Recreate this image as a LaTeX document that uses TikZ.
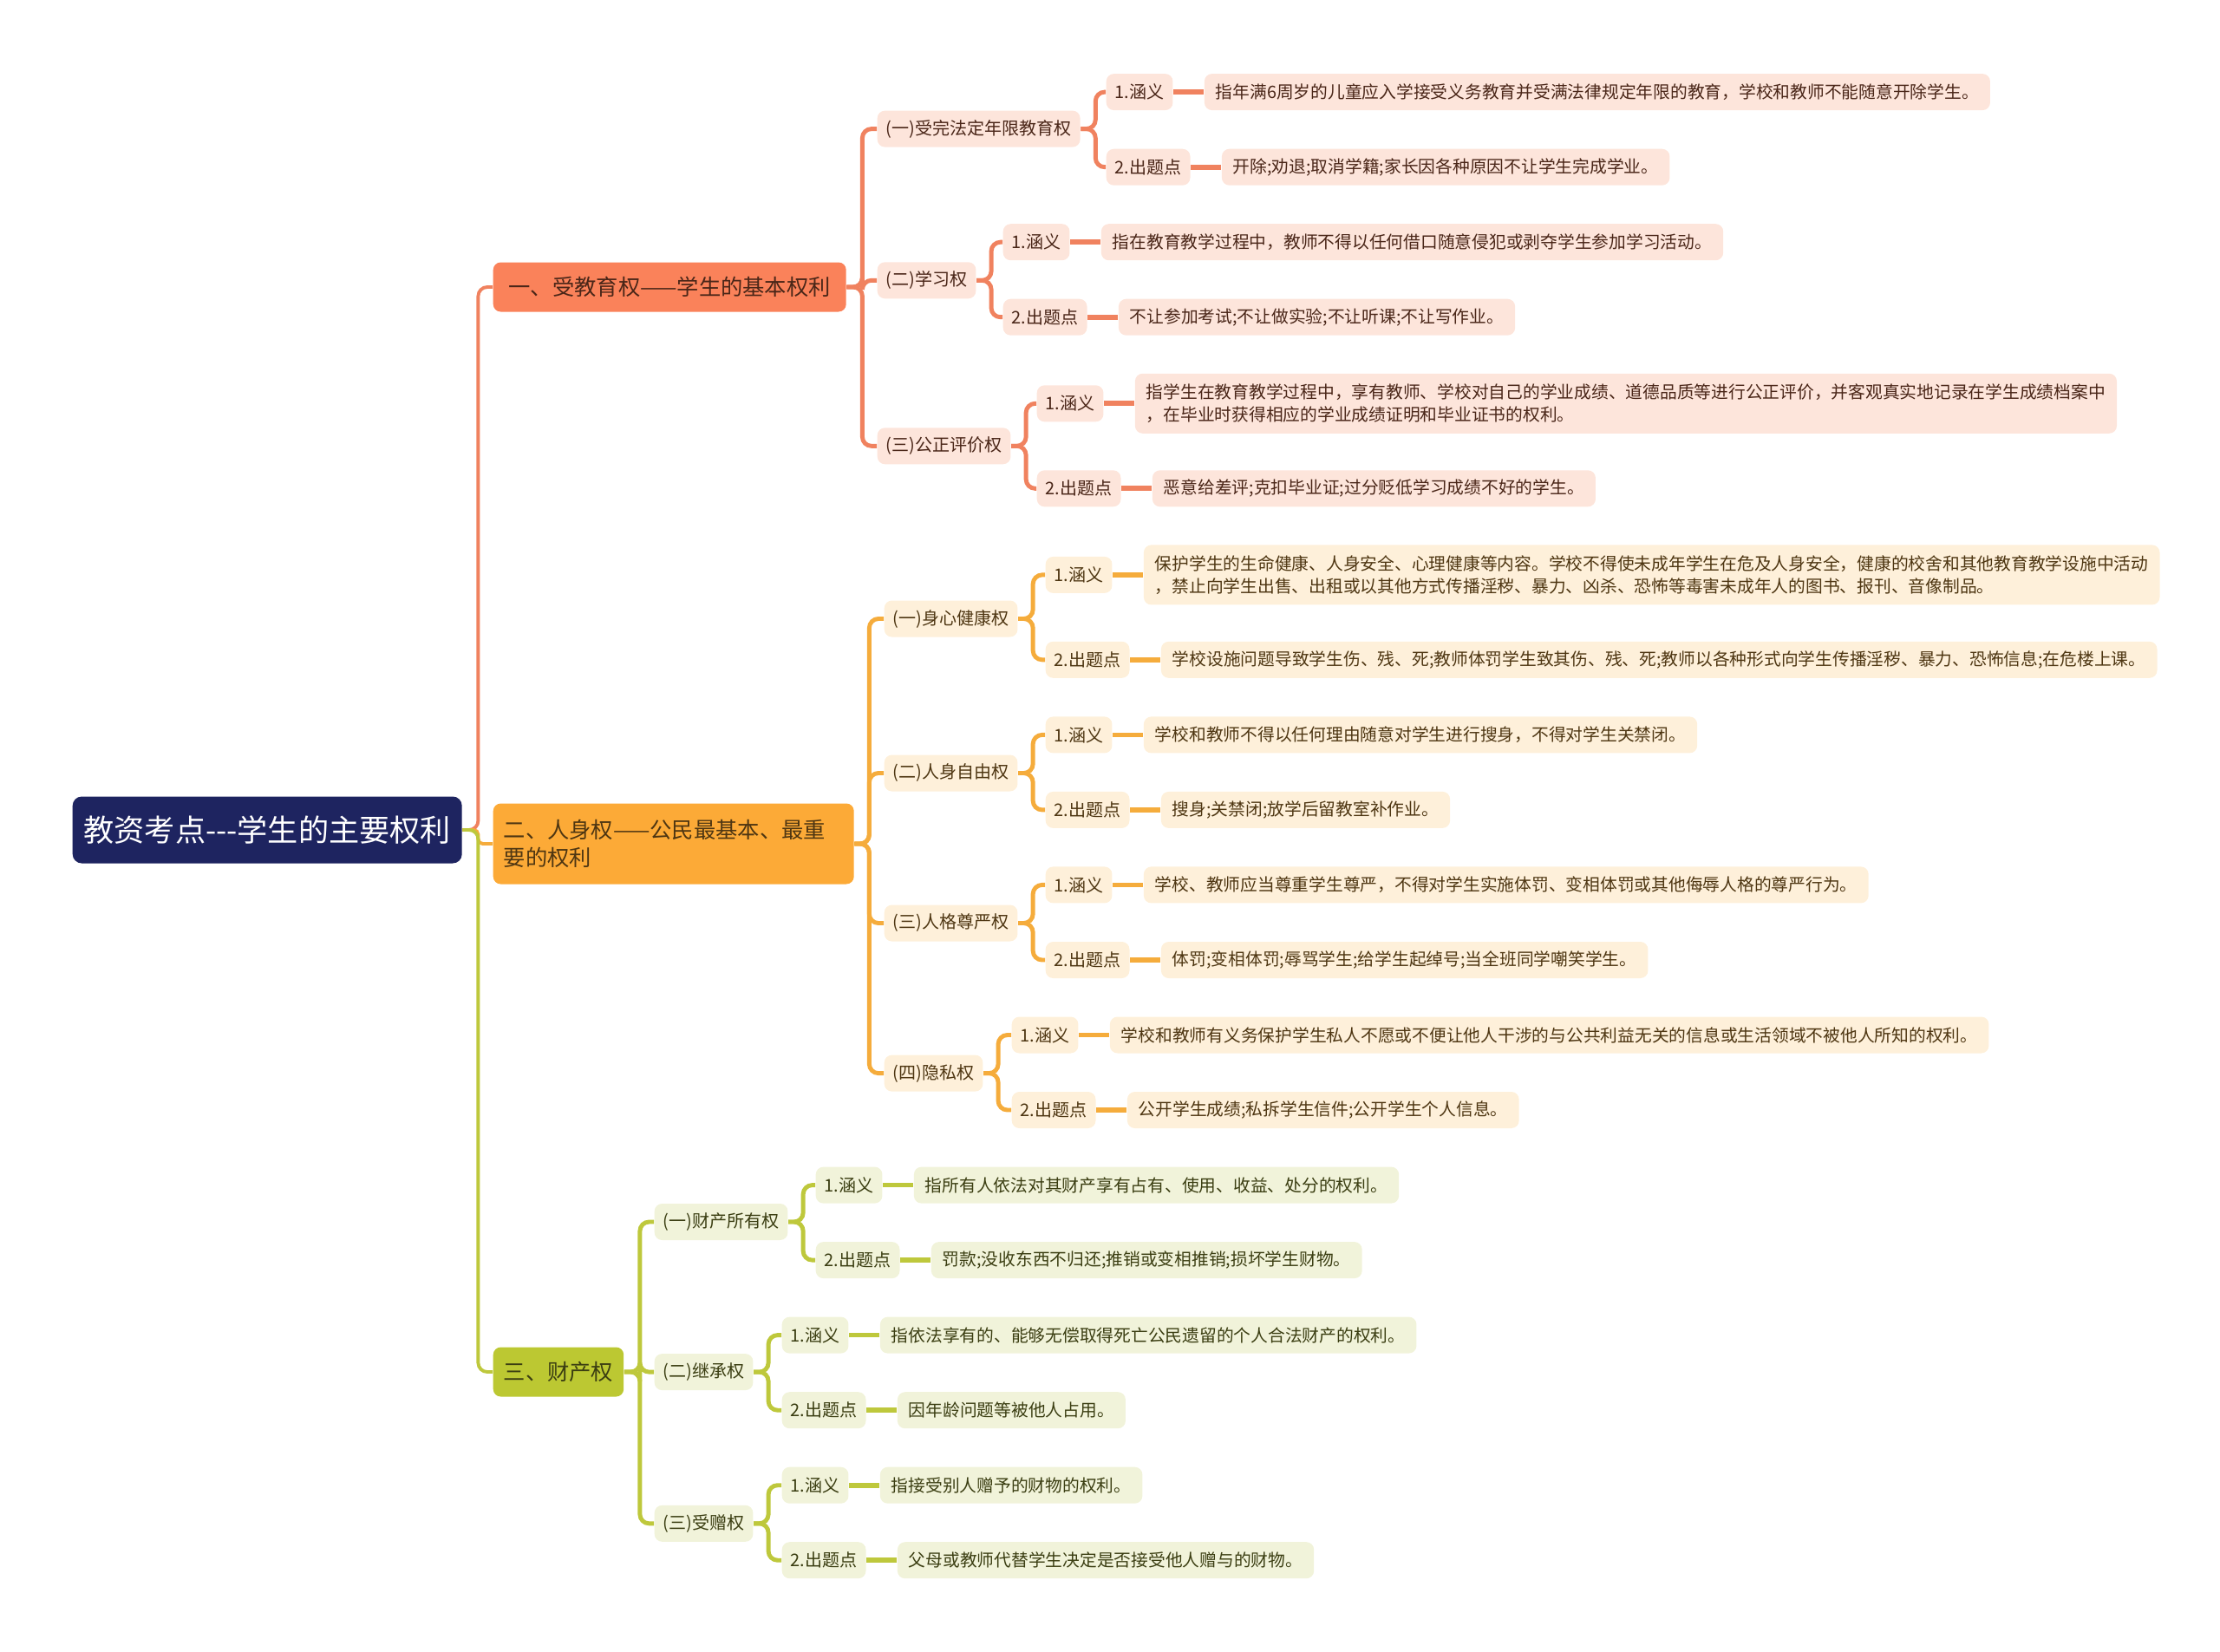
\documentclass[tikz,border=0pt]{standalone}
\usepackage{fontspec}
\newfontfamily\cjk{Noto Sans CJK SC}
\usepackage{tikz}
\usetikzlibrary{positioning}

% branch colours
\definecolor{rootBlue}{HTML}{1E2460}
\definecolor{eduTop}{HTML}{FA825A}
\definecolor{eduLight}{HTML}{FDE5DB}
\definecolor{eduLine}{HTML}{F0825F}
\definecolor{eduText}{HTML}{4A2618}
\definecolor{bodyTop}{HTML}{FCAA37}
\definecolor{bodyLight}{HTML}{FEF0DA}
\definecolor{bodyLine}{HTML}{F5AC3C}
\definecolor{bodyText}{HTML}{4E3612}
\definecolor{propTop}{HTML}{BCC832}
\definecolor{propLight}{HTML}{F1F3DA}
\definecolor{propLine}{HTML}{BEC83C}
\definecolor{propText}{HTML}{3B3E12}

\tikzset{
  rootbox/.style={anchor=west, fill=rootBlue, text=white, rounded corners=3pt,
    minimum width=4.49cm, minimum height=0.77cm, font=\cjk\fontsize{10}{12}\selectfont},
  topbox/.style={anchor=west, rounded corners=2.5pt, inner xsep=0.12cm, inner ysep=0.05cm,
    minimum height=0.57cm, font=\cjk\fontsize{7.2}{9.3}\selectfont},
  subbox/.style={anchor=west, rounded corners=2.5pt, inner xsep=0.1cm, inner ysep=0.05cm,
    minimum height=0.42cm, font=\cjk\fontsize{5.7}{7.4}\selectfont},
  leafbox/.style={subbox, inner xsep=0.13cm, font=\cjk\fontsize{5.62}{7.4}\selectfont},
  twoline/.style={align=left, minimum height=0.69cm},
  edutop/.style={topbox, fill=eduTop, text=eduText},
  edusub/.style={subbox, fill=eduLight, text=eduText},
  eduleaf/.style={leafbox, fill=eduLight, text=eduText},
  bodytop/.style={topbox, fill=bodyTop, text=bodyText},
  bodysub/.style={subbox, fill=bodyLight, text=bodyText},
  bodyleaf/.style={leafbox, fill=bodyLight, text=bodyText},
  proptop/.style={topbox, fill=propTop, text=propText},
  propsub/.style={subbox, fill=propLight, text=propText},
  propleaf/.style={leafbox, fill=propLight, text=propText},
  trunk/.style={line width=1.1pt, rounded corners=3pt},
  branch/.style={line width=1.4pt, rounded corners=3pt},
  twig/.style={line width=1.6pt},
}

\begin{document}
\begin{tikzpicture}
    \useasboundingbox (0,0) rectangle (25.6,-19.05);

    % Root and main branches
    \node[rootbox] (root) at (0.83,-9.57) {教资考点---学生的主要权利};
    \node[edutop, minimum width=4.07cm] (edu) at (5.68,-3.31) {一、受教育权——学生的基本权利};
    \node[bodytop, text width=3.92cm, align=left, minimum height=0.93cm] (body) at (5.68,-9.73)
        {二、人身权——公民最基本、最重\\要的权利};
    \node[proptop] (prop) at (5.68,-15.82) {三、财产权};

    \draw[trunk, eduLine] (root.east) -- ++(0.18,0) |- (edu.west);
    \draw[trunk, bodyLine, rounded corners=1.5pt] (root.east) -- ++(0.18,0) |- (body.west);
    \draw[trunk, propLine] (root.east) -- ++(0.18,0) |- (prop.west);

    % 一、受教育权
    \node[edusub] (edu1) at (10.11,-1.486) {(一)受完法定年限教育权};
    \node[edusub] (edu2) at (10.11,-3.233) {(二)学习权};
    \node[edusub] (edu3) at (10.11,-5.143) {(三)公正评价权};
    \foreach \k in {edu1,edu2,edu3}
        \draw[branch, eduLine] (edu.east) -- ++(0.18,0) |- (\k.west);

    \node[edusub] (edu1a) at (12.75,-1.061) {1.涵义};
    \node[edusub] (edu1b) at (12.75,-1.927) {2.出题点};
    \node[eduleaf, right=0.35cm of edu1a] (edu1at)
        {指年满6周岁的儿童应入学接受义务教育并受满法律规定年限的教育，学校和教师不能随意开除学生。};
    \node[eduleaf, right=0.35cm of edu1b] (edu1bt) {开除;劝退;取消学籍;家长因各种原因不让学生完成学业。};

    \node[edusub] (edu2a) at (11.56,-2.792) {1.涵义};
    \node[edusub] (edu2b) at (11.56,-3.657) {2.出题点};
    \node[eduleaf, right=0.35cm of edu2a] (edu2at)
        {指在教育教学过程中，教师不得以任何借口随意侵犯或剥夺学生参加学习活动。};
    \node[eduleaf, right=0.35cm of edu2b] (edu2bt) {不让参加考试;不让做实验;不让听课;不让写作业。};

    \node[edusub] (edu3a) at (11.95,-4.653) {1.涵义};
    \node[edusub] (edu3b) at (11.95,-5.633) {2.出题点};
    \node[eduleaf, twoline, right=0.35cm of edu3a] (edu3at)
        {指学生在教育教学过程中，享有教师、学校对自己的学业成绩、道德品质等进行公正评价，并客观真实地记录在学生成绩档案中\\，在毕业时获得相应的学业成绩证明和毕业证书的权利。};
    \node[eduleaf, right=0.35cm of edu3b] (edu3bt) {恶意给差评;克扣毕业证;过分贬低学习成绩不好的学生。};

    \foreach \k in {edu1,edu2,edu3} {
        \draw[branch, eduLine] (\k.east) -- ++(0.17,0) |- (\k a.west);
        \draw[branch, eduLine] (\k.east) -- ++(0.17,0) |- (\k b.west);
        \draw[twig, eduLine] (\k a.east) -- (\k at.west);
        \draw[twig, eduLine] (\k b.east) -- (\k bt.west);
    }

    % 二、人身权
    \node[bodysub] (body1) at (10.19,-7.135) {(一)身心健康权};
    \node[bodysub] (body2) at (10.19,-8.915) {(二)人身自由权};
    \node[bodysub] (body3) at (10.19,-10.645) {(三)人格尊严权};
    \node[bodysub] (body4) at (10.19,-12.376) {(四)隐私权};
    \foreach \k in {body1,body2,body3,body4}
        \draw[branch, bodyLine] (body.east) -- ++(0.17,0) |- (\k.west);

    \node[bodysub] (body1a) at (12.05,-6.629) {1.涵义};
    \node[bodysub] (body1b) at (12.05,-7.608) {2.出题点};
    \node[bodyleaf, twoline, right=0.35cm of body1a] (body1at)
        {保护学生的生命健康、人身安全、心理健康等内容。学校不得使未成年学生在危及人身安全，健康的校舍和其他教育教学设施中活动\\，禁止向学生出售、出租或以其他方式传播淫秽、暴力、凶杀、恐怖等毒害未成年人的图书、报刊、音像制品。};
    \node[bodyleaf, right=0.35cm of body1b] (body1bt)
        {学校设施问题导致学生伤、残、死;教师体罚学生致其伤、残、死;教师以各种形式向学生传播淫秽、暴力、恐怖信息;在危楼上课。};

    \node[bodysub] (body2a) at (12.05,-8.474) {1.涵义};
    \node[bodysub] (body2b) at (12.05,-9.339) {2.出题点};
    \node[bodyleaf, right=0.35cm of body2a] (body2at)
        {学校和教师不得以任何理由随意对学生进行搜身，不得对学生关禁闭。};
    \node[bodyleaf, right=0.35cm of body2b] (body2bt) {搜身;关禁闭;放学后留教室补作业。};

    \node[bodysub] (body3a) at (12.05,-10.204) {1.涵义};
    \node[bodysub] (body3b) at (12.05,-11.070) {2.出题点};
    \node[bodyleaf, right=0.35cm of body3a] (body3at)
        {学校、教师应当尊重学生尊严，不得对学生实施体罚、变相体罚或其他侮辱人格的尊严行为。};
    \node[bodyleaf, right=0.35cm of body3b] (body3bt) {体罚;变相体罚;辱骂学生;给学生起绰号;当全班同学嘲笑学生。};

    \node[bodysub] (body4a) at (11.66,-11.935) {1.涵义};
    \node[bodysub] (body4b) at (11.66,-12.800) {2.出题点};
    \node[bodyleaf, right=0.35cm of body4a] (body4at)
        {学校和教师有义务保护学生私人不愿或不便让他人干涉的与公共利益无关的信息或生活领域不被他人所知的权利。};
    \node[bodyleaf, right=0.35cm of body4b] (body4bt) {公开学生成绩;私拆学生信件;公开学生个人信息。};

    \foreach \k in {body1,body2,body3,body4} {
        \draw[branch, bodyLine] (\k.east) -- ++(0.17,0) |- (\k a.west);
        \draw[branch, bodyLine] (\k.east) -- ++(0.17,0) |- (\k b.west);
        \draw[twig, bodyLine] (\k a.east) -- (\k at.west);
        \draw[twig, bodyLine] (\k b.east) -- (\k bt.west);
    }

    % 三、财产权
    \node[propsub] (prop1) at (7.54,-14.090) {(一)财产所有权};
    \node[propsub] (prop2) at (7.54,-15.821) {(二)继承权};
    \node[propsub] (prop3) at (7.54,-17.568) {(三)受赠权};
    \foreach \k in {prop1,prop2,prop3}
        \draw[branch, propLine] (prop.east) -- ++(0.18,0) |- (\k.west);

    \node[propsub] (prop1a) at (9.40,-13.666) {1.涵义};
    \node[propsub] (prop1b) at (9.40,-14.531) {2.出题点};
    \node[propleaf, right=0.35cm of prop1a] (prop1at) {指所有人依法对其财产享有占有、使用、收益、处分的权利。};
    \node[propleaf, right=0.35cm of prop1b] (prop1bt) {罚款;没收东西不归还;推销或变相推销;损坏学生财物。};

    \node[propsub] (prop2a) at (9.01,-15.396) {1.涵义};
    \node[propsub] (prop2b) at (9.01,-16.262) {2.出题点};
    \node[propleaf, right=0.35cm of prop2a] (prop2at) {指依法享有的、能够无偿取得死亡公民遗留的个人合法财产的权利。};
    \node[propleaf, right=0.35cm of prop2b] (prop2bt) {因年龄问题等被他人占用。};

    \node[propsub] (prop3a) at (9.01,-17.127) {1.涵义};
    \node[propsub] (prop3b) at (9.01,-17.992) {2.出题点};
    \node[propleaf, right=0.35cm of prop3a] (prop3at) {指接受别人赠予的财物的权利。};
    \node[propleaf, right=0.35cm of prop3b] (prop3bt) {父母或教师代替学生决定是否接受他人赠与的财物。};

    \foreach \k in {prop1,prop2,prop3} {
        \draw[branch, propLine] (\k.east) -- ++(0.17,0) |- (\k a.west);
        \draw[branch, propLine] (\k.east) -- ++(0.17,0) |- (\k b.west);
        \draw[twig, propLine] (\k a.east) -- (\k at.west);
        \draw[twig, propLine] (\k b.east) -- (\k bt.west);
    }
\end{tikzpicture}
\end{document}
